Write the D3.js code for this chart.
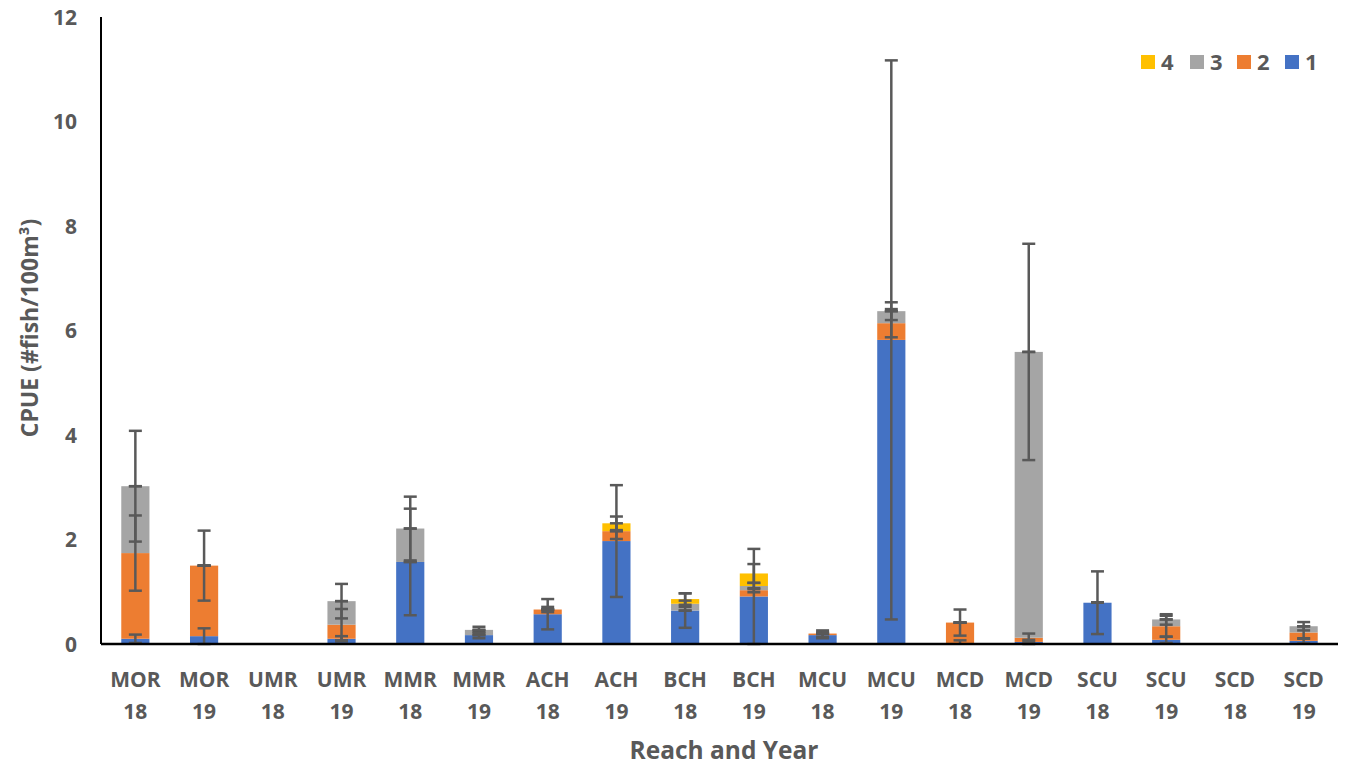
<!DOCTYPE html>
<html>
<head>
<meta charset="utf-8">
<script src="https://cdn.jsdelivr.net/npm/d3@7"></script>
<style>
  body { margin: 0; background: #fff; }
  text { font-family: "Open Sans", "Noto Sans", sans-serif; font-weight: bold; fill: #595959; }
</style>
</head>
<body>
<div id="chart-area"></div>
<script>
// categories (reach + year, drawn on two lines)
let reaches = ["MOR", "MOR", "UMR", "UMR", "MMR", "MMR", "ACH", "ACH", "BCH", "BCH", "MCU", "MCU", "MCD", "MCD", "SCU", "SCU", "SCD", "SCD"];
let years = ["18", "19", "18", "19", "18", "19", "18", "19", "18", "19", "18", "19", "18", "19", "18", "19", "18", "19"];

// stacked series values (CPUE)
let series1 = [0.10, 0.15, 0, 0.10, 1.57, 0.17, 0.57, 1.97, 0.64, 0.91, 0.17, 5.82, 0.02, 0.04, 0.79, 0.08, 0, 0.06];
let series2 = [1.64, 1.35, 0, 0.27, 0, 0, 0.09, 0.19, 0, 0.12, 0.03, 0.32, 0.39, 0.08, 0, 0.26, 0, 0.16];
let series3 = [1.28, 0, 0, 0.45, 0.64, 0.10, 0, 0, 0.13, 0.08, 0, 0.23, 0, 5.47, 0, 0.13, 0, 0.12];
let series4 = [0, 0, 0, 0, 0, 0, 0, 0.15, 0.09, 0.24, 0, 0, 0, 0, 0, 0, 0, 0];

// error bar half lengths (null = no bar)
let err1 = [0.08, 0.15, null, 0.05, 1.02, 0.06, 0.29, 1.07, 0.33, 0.91, 0.06, 5.35, 0.05, 0.04, 0.60, 0.06, null, 0.05];
let err2 = [0.72, 0.67, null, 0.30, 0, 0, 0.05, 0.15, 0, 0.04, 0.06, 0.27, 0.25, 0.08, 0, 0.20, null, 0.12];
let err3 = [1.06, 0, null, 0.33, 0.61, 0.06, 0, 0, 0.06, 0.06, 0, 0.17, 0, 2.07, 0, 0.10, null, 0.08];
let err4 = [0, 0, null, 0, 0, 0, 0, 0.13, 0.11, 0.18, 0, 0, 0, 0, 0, 0, null, 0];

let seriesNames = ["1", "2", "3", "4"];
let colors = ["#4472C4", "#ED7D31", "#A5A5A5", "#FFC000"];
let yTicks = [0, 2, 4, 6, 8, 10, 12];

let width = 1346, height = 767;
let plot = {left: 101, right: 1338, top: 17, bottom: 644};

let svg = d3.select("#chart-area").append("svg")
  .attr("width", width)
  .attr("height", height);

// build rows for d3.stack
let values = [series1, series2, series3, series4];
let errors = [err1, err2, err3, err4];
let rows = reaches.map((r, i) => {
  let row = {idx: i};
  seriesNames.forEach((k, j) => row[k] = values[j][i]);
  return row;
});
let stacked = d3.stack().keys(seriesNames)(rows);

let x = d3.scaleBand()
  .domain(d3.range(reaches.length))
  .range([plot.left, plot.right])
  .paddingInner(0.59)
  .paddingOuter(0.295);

let y = d3.scaleLinear()
  .domain([0, 12])
  .range([plot.bottom, plot.top]);

// bars
svg.selectAll(".layer")
  .data(stacked)
  .enter().append("g")
  .attr("class", "layer")
  .attr("fill", (d, i) => colors[i])
  .selectAll("rect")
  .data(d => d)
  .enter().append("rect")
  .attr("x", (d, i) => x(i))
  .attr("width", x.bandwidth())
  .attr("y", d => y(d[1]))
  .attr("height", d => y(d[0]) - y(d[1]));

// error bars, centred on the top of each segment
let capW = 13;
stacked.forEach((layer, j) => {
  layer.forEach((d, i) => {
    let e = errors[j][i];
    if (e === null) return;
    let cx = x(i) + x.bandwidth() / 2;
    let top = y(d[1] + e);
    let bot = y(Math.max(0, d[1] - e));
    let g = svg.append("g")
      .attr("stroke", "#595959")
      .attr("stroke-width", 2.5);
    g.append("line").attr("x1", cx).attr("x2", cx).attr("y1", top).attr("y2", bot);
    g.append("line").attr("x1", cx - capW / 2).attr("x2", cx + capW / 2).attr("y1", top).attr("y2", top);
    if (d[1] - e >= 0) {
      g.append("line").attr("x1", cx - capW / 2).attr("x2", cx + capW / 2).attr("y1", bot).attr("y2", bot);
    }
  });
});

// axes lines
svg.append("line")
  .attr("x1", plot.left).attr("x2", plot.left)
  .attr("y1", plot.top).attr("y2", plot.bottom)
  .attr("stroke", "#000").attr("stroke-width", 2);
svg.append("line")
  .attr("x1", plot.left).attr("x2", plot.right)
  .attr("y1", plot.bottom).attr("y2", plot.bottom)
  .attr("stroke", "#000").attr("stroke-width", 2.5);

// y tick labels
svg.selectAll(".ytick")
  .data(yTicks)
  .enter().append("text")
  .attr("class", "ytick")
  .attr("x", 77)
  .attr("y", d => y(d))
  .attr("dy", "0.36em")
  .attr("text-anchor", "end")
  .attr("font-size", 21)
  .text(d => d);

// x tick labels
let xl = svg.selectAll(".xtick")
  .data(reaches)
  .enter().append("g")
  .attr("class", "xtick")
  .attr("transform", (d, i) => "translate(" + (x(i) + x.bandwidth() / 2) + ",0)");
xl.append("text")
  .attr("y", 686.5)
  .attr("text-anchor", "middle")
  .attr("font-size", 21)
  .text(d => d);
xl.append("text")
  .attr("y", 718.5)
  .attr("text-anchor", "middle")
  .attr("font-size", 21)
  .text((d, i) => years[i]);

// axis titles
svg.append("text")
  .attr("x", 724)
  .attr("y", 759)
  .attr("text-anchor", "middle")
  .attr("font-size", 24.5)
  .text("Reach and Year");

svg.append("text")
  .attr("transform", "translate(38,328) rotate(-90)")
  .attr("text-anchor", "middle")
  .attr("font-size", 23)
  .text("CPUE (#fish/100m³)");

// legend (4, 3, 2, 1)
let legendX = [1141, 1190, 1237, 1285];
let legendOrder = [3, 2, 1, 0];
legendOrder.forEach((s, k) => {
  svg.append("rect")
    .attr("x", legendX[k]).attr("y", 55)
    .attr("width", 14).attr("height", 14)
    .attr("fill", colors[s]);
  svg.append("text")
    .attr("x", legendX[k] + 20).attr("y", 70)
    .attr("font-size", 22)
    .text(seriesNames[s]);
});
</script>
</body>
</html>
